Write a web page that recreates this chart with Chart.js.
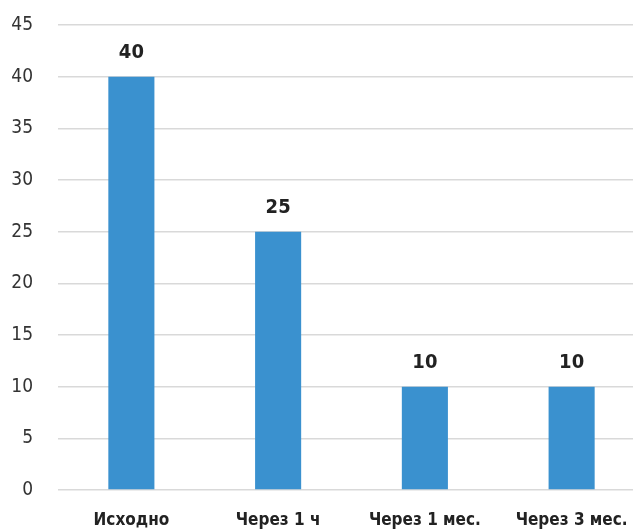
<!DOCTYPE html>
<html>
<head>
<meta charset="utf-8">
<script src="https://cdn.jsdelivr.net/npm/chart.js@4/dist/chart.umd.min.js"></script>
<style>
  html, body { margin: 0; padding: 0; background: #fff; overflow: hidden; }
  #wrap { width: 633px; height: 532px; overflow: hidden; }
</style>
</head>
<body>
<div id="wrap"><canvas id="chart" width="650" height="532"></canvas></div>
<script>
const categories = ['Исходно', 'Через 1 ч', 'Через 1 мес.', 'Через 3 мес.'];
const values = [40, 25, 10, 10];
const yTicks = [0, 5, 10, 15, 20, 25, 30, 35, 40, 45];

const fontFamily = '"Liberation Sans Narrow", "DejaVu Sans Condensed", sans-serif';

// value labels above bars
const valueLabels = {
    id: 'valueLabels',
    afterDatasetsDraw(chart) {
        const ctx = chart.ctx;
        const meta = chart.getDatasetMeta(0);
        ctx.save();
        ctx.font = 'bold 20px ' + fontFamily;
        ctx.fillStyle = '#222';
        ctx.textAlign = 'center';
        ctx.textBaseline = 'bottom';
        meta.data.forEach((bar, i) => {
            ctx.fillText(String(values[i]), bar.x, bar.y - 14);
        });
        ctx.restore();
    }
};

new Chart(document.getElementById('chart'), {
    type: 'bar',
    data: {
        labels: categories,
        datasets: [{
            data: values,
            backgroundColor: '#3a91cf',
            barPercentage: 0.314,
            categoryPercentage: 1
        }]
    },
    options: {
        responsive: false,
        animation: false,
        layout: { padding: { top: 25, right: 5, left: 0, bottom: 0 } },
        plugins: { legend: { display: false }, tooltip: { enabled: false } },
        scales: {
            x: {
                grid: { display: false },
                border: { display: false },
                ticks: {
                    color: '#222',
                    font: { family: fontFamily, size: 17, weight: 'bold' },
                    padding: 12
                },
                afterFit(axis) { axis.height = 42; axis.paddingLeft = 0; axis.paddingRight = 0; }
            },
            y: {
                min: 0,
                max: 45,
                afterBuildTicks(axis) { axis.ticks = yTicks.map(v => ({ value: v })); },
                grid: { color: '#d9d9d9', lineWidth: 1.5, drawTicks: false },
                border: { display: false },
                ticks: {
                    color: '#333',
                    font: { family: fontFamily, size: 19 },
                    padding: 25
                },
                afterFit(axis) { axis.width = 58; axis.paddingTop = 0; axis.paddingBottom = 0; }
            }
        }
    },
    plugins: [valueLabels]
});
</script>
</body>
</html>
